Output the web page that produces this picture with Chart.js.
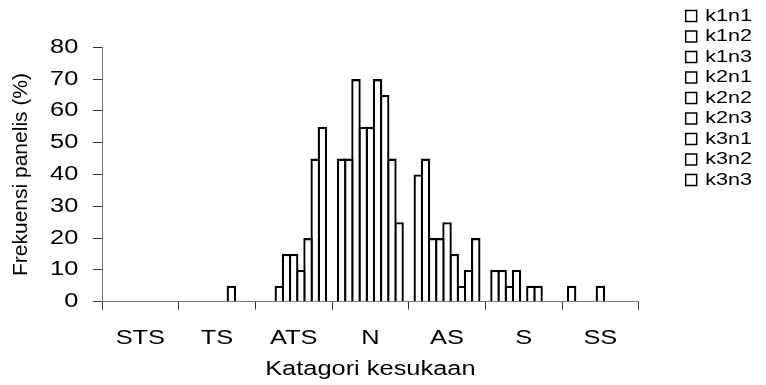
<!DOCTYPE html>
<html>
<head>
<meta charset="utf-8">
<script src="https://cdn.jsdelivr.net/npm/chart.js@4.4.1/dist/chart.umd.min.js"></script>
<style>
  html, body { margin: 0; padding: 0; background: #fff; }
  canvas { display: block; }
</style>
</head>
<body>
<canvas id="chart" width="766" height="385"></canvas>
<script>
// Preference categories on the x axis
const categories = ['STS', 'TS', 'ATS', 'N', 'AS', 'S', 'SS'];

// Panel frequency (%) per sample, one value per category
const seriesNames = ['k1n1', 'k1n2', 'k1n3', 'k2n1', 'k2n2', 'k2n3', 'k3n1', 'k3n2', 'k3n3'];
const k1n1 = [0, 0, 0, 45, 40, 10, 5];
const k1n2 = [0, 0, 0, 45, 45, 10, 0];
const k1n3 = [0, 0, 5, 70, 20, 5, 0];
const k2n1 = [0, 0, 15, 55, 20, 10, 0];
const k2n2 = [0, 0, 15, 55, 25, 0, 5];
const k2n3 = [0, 0, 10, 70, 15, 5, 0];
const k3n1 = [0, 5, 20, 65, 5, 5, 0];
const k3n2 = [0, 0, 45, 45, 10, 0, 0];
const k3n3 = [0, 0, 55, 25, 20, 0, 0];
const seriesValues = [k1n1, k1n2, k1n3, k2n1, k2n2, k2n3, k3n1, k3n2, k3n3];

// Y axis range and tick step
const yMin = 0;
const yMax = 80;
const yStep = 10;

const xTitle = 'Katagori kesukaan';
const yTitle = 'Frekuensi panelis (%)';

// Plot frame (pixels)
const PLOT_LEFT = 102;
const PLOT_RIGHT = 638.7;
const PLOT_TOP = 47.3;
const PLOT_BOTTOM = 301.7;
const PAD_TOP = 4;
const PAD_RIGHT = 4;

// Horizontal text is drawn slightly widened
const TEXT_STRETCH = 1.27;

const canvas = document.getElementById('chart');
const ctx = canvas.getContext('2d');

(function widenText(c, sx) {
  const fill = c.fillText;
  const measure = c.measureText;
  c.fillText = function (text, x, y, maxWidth) {
    const t = this.getTransform();
    const upright = Math.abs(t.b) < 1e-6 && Math.abs(t.c) < 1e-6;
    if (!upright) {
      return maxWidth === undefined ? fill.call(this, text, x, y) : fill.call(this, text, x, y, maxWidth);
    }
    this.save();
    this.translate(x, y);
    this.scale(sx, 1);
    if (maxWidth === undefined) fill.call(this, text, 0, 0);
    else fill.call(this, text, 0, 0, maxWidth / sx);
    this.restore();
  };
  c.measureText = function (text) {
    const m = measure.call(this, text);
    return {
      width: m.width * sx,
      actualBoundingBoxAscent: m.actualBoundingBoxAscent,
      actualBoundingBoxDescent: m.actualBoundingBoxDescent,
      actualBoundingBoxLeft: m.actualBoundingBoxLeft * sx,
      actualBoundingBoxRight: m.actualBoundingBoxRight * sx
    };
  };
})(ctx, TEXT_STRETCH);

Chart.defaults.font.family = "'Liberation Sans', Arial, sans-serif";
Chart.defaults.color = '#000';

// Bars share their outlines with their neighbours
const BORDER = 2.3;
const CAT_PCT = 0.843;
const slot = (PLOT_RIGHT - PLOT_LEFT) / categories.length * CAT_PCT / seriesNames.length;
const BAR_PCT = (slot + BORDER) / slot;

const datasets = seriesNames.map((name, i) => ({
  label: name,
  data: seriesValues[i],
  backgroundColor: '#ffffff',
  borderColor: '#000000',
  borderWidth: BORDER,
  borderSkipped: 'start',
  categoryPercentage: CAT_PCT,
  barPercentage: BAR_PCT,
  inflateAmount: 0
}));

new Chart(ctx, {
  type: 'bar',
  data: { labels: categories, datasets },
  options: {
    responsive: false,
    animation: false,
    events: [],
    layout: { padding: { top: PAD_TOP, right: PAD_RIGHT, bottom: 0, left: 0 } },
    plugins: {
      tooltip: { enabled: false },
      legend: {
        position: 'right',
        align: 'start',
        labels: {
          boxWidth: 11,
          boxHeight: 11,
          padding: 3.5,
          color: '#000',
          font: { size: 17 },
          generateLabels(chart) {
            return Chart.defaults.plugins.legend.labels.generateLabels(chart).map(l =>
              Object.assign(l, { fillStyle: '#ffffff', strokeStyle: '#000000', lineWidth: 1.5 }));
          }
        }
      }
    },
    scales: {
      x: {
        type: 'category',
        position: 'bottom',
        offset: true,
        grid: {
          display: true,
          offset: true,
          drawOnChartArea: false,
          drawTicks: true,
          tickLength: 8,
          tickColor: '#333',
          tickWidth: 1
        },
        border: { display: true, color: '#777', width: 1 },
        ticks: { font: { size: 20 }, padding: 17, color: '#000', maxRotation: 0, autoSkip: false },
        title: { display: true, text: xTitle, font: { size: 20 }, color: '#000', padding: { top: 0, bottom: 4 } },
        afterFit(scale) { scale.height = scale.chart.height - PLOT_BOTTOM; }
      },
      y: {
        type: 'linear',
        position: 'left',
        min: yMin,
        max: yMax,
        ticks: { stepSize: yStep, font: { size: 20 }, padding: 14.7, color: '#000' },
        grid: {
          display: true,
          drawOnChartArea: false,
          drawTicks: true,
          tickLength: 9,
          tickColor: '#333',
          tickWidth: 1
        },
        border: { display: true, color: '#777', width: 1 },
        title: { display: true, text: yTitle, font: { size: 21 }, color: '#000', padding: { top: 8.4, bottom: 0 } },
        afterFit(scale) { scale.width = PLOT_LEFT; }
      },
      // empty band above the plot
      top: {
        type: 'category',
        position: 'top',
        grid: { display: false },
        border: { display: false },
        ticks: { display: false },
        afterFit(scale) { scale.height = PLOT_TOP - PAD_TOP; }
      },
      // gap between the plot and the legend
      gap: {
        type: 'linear',
        position: 'right',
        grid: { display: false },
        border: { display: false },
        ticks: { display: false },
        afterFit(scale) {
          const legendLeft = scale.chart.width - PAD_RIGHT - scale.chart.legend.width;
          scale.width = Math.max(0, legendLeft - PLOT_RIGHT);
        }
      }
    }
  }
});
</script>
</body>
</html>
